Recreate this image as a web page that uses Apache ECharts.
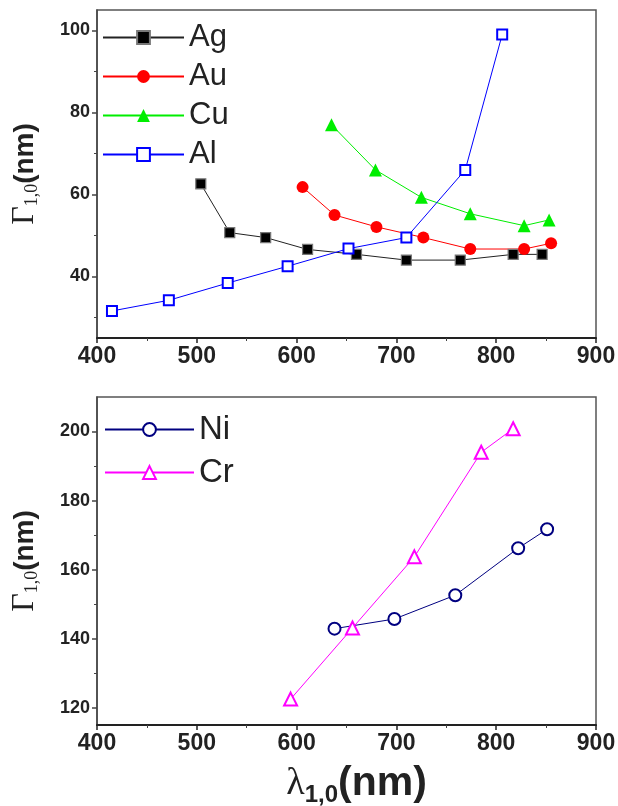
<!DOCTYPE html>
<html>
<head>
<meta charset="utf-8">
<script src="https://cdn.jsdelivr.net/npm/echarts@6/dist/echarts.min.js"></script>
<style>
html,body{margin:0;padding:0;background:#fff;}
#main{width:618px;height:806px;}
</style>
</head>
<body>
<div id="main"></div>
<script>
// top panel: Ag, Au, Cu, Al
var agX = [504, 533, 569, 611, 660, 710, 764, 817, 846];
var agY = [62.6, 50.7, 49.5, 46.6, 45.4, 44.0, 44.0, 45.4, 45.4];
var auX = [606, 638, 680, 727, 774, 828, 855];
var auY = [61.8, 55.0, 52.1, 49.5, 46.7, 46.7, 48.1];
var cuX = [635, 679, 725, 774, 828, 853];
var cuY = [77.0, 66.0, 59.3, 55.3, 52.4, 53.8];
var alX = [415, 472, 531, 591, 652, 710, 769, 806];
var alY = [31.6, 34.2, 38.4, 42.5, 46.8, 49.5, 66.0, 99.0];
// bottom panel: Ni, Cr
var niX = [638, 698, 759, 822, 851];
var niY = [142.9, 145.7, 152.6, 166.2, 171.7];
var crX = [594, 656, 718, 785, 817];
var crY = [122.5, 143.1, 163.7, 194.0, 200.8];
// ticks
var topYTicks = [40, 60, 80, 100];
var topYMinor = [30, 50, 70, 90];
var botYTicks = [120, 140, 160, 180, 200];
var botYMinor = [130, 150, 170, 190];

function pairs(xs, ys) {
  return xs.map(function (x, i) { return [x, ys[i]]; });
}

var sans = 'Liberation Sans, Arial, sans-serif';
var serif = 'Liberation Serif, Times New Roman, serif';

function xAxis(grid, name) {
  return {
    type: 'value', gridIndex: grid, min: 400, max: 900, interval: 100,
    axisLine: {lineStyle: {color: '#222', width: 2}},
    axisTick: {length: 5, lineStyle: {color: '#222', width: 1.5}},
    minorTick: {show: true, splitNumber: 2, length: 3, lineStyle: {color: '#444'}},
    splitLine: {show: false},
    axisLabel: {fontSize: 23, fontWeight: 'bold', color: '#222', fontFamily: sans, margin: 7},
    name: name || '', nameLocation: 'middle', nameGap: 36,
    nameTextStyle: {
      padding: [0, 0, 0, 20],
      rich: {
        l: {fontSize: 38, fontFamily: serif, color: '#222'},
        s: {fontSize: 24, fontWeight: 'bold', fontFamily: sans, color: '#222', verticalAlign: 'bottom', padding: [22, 0, 0, 0]},
        b: {fontSize: 41, fontWeight: 'bold', fontFamily: sans, color: '#222'}
      }
    }
  };
}

function yMain(grid, min, max, ticks) {
  return {
    type: 'value', gridIndex: grid, min: min, max: max, position: 'left',
    axisLine: {lineStyle: {color: '#444', width: 1.5}},
    axisTick: {length: 5, customValues: ticks, lineStyle: {color: '#444', width: 1.5}},
    splitLine: {show: false},
    axisLabel: {customValues: ticks, fontSize: 18, fontWeight: 'bold', color: '#222', fontFamily: sans, margin: 7},
    name: '{g|Γ}{s|1,0}{b|(nm)}', nameLocation: 'middle', nameGap: 56,
    nameTextStyle: {
      rich: {
        g: {fontSize: 32, fontFamily: serif, color: '#222'},
        s: {fontSize: 18, fontFamily: serif, color: '#222', verticalAlign: 'bottom', padding: [10, 0, 0, 0]},
        b: {fontSize: 28, fontWeight: 'bold', fontFamily: sans, color: '#222'}
      }
    }
  };
}

function yMinor(grid, min, max, ticks) {
  return {
    type: 'value', gridIndex: grid, min: min, max: max, position: 'left',
    axisLine: {show: false},
    axisTick: {length: 3, customValues: ticks, lineStyle: {color: '#444', width: 1}},
    axisLabel: {show: false},
    splitLine: {show: false}
  };
}

var chart = echarts.init(document.getElementById('main'), null, {renderer: 'canvas'});

var option = {
  backgroundColor: '#fff',
  animation: false,
  grid: [
    {left: 97, right: 22, top: 10, height: 328, outerBoundsMode: 'none', containLabel: false,
      show: true, borderColor: '#555', borderWidth: 1.5},
    {left: 97, right: 22, top: 397, height: 328, outerBoundsMode: 'none', containLabel: false,
      show: true, borderColor: '#555', borderWidth: 1.5}
  ],
  xAxis: [xAxis(0), xAxis(1, '{l|λ}{s|1,0}{b|(nm)}')],
  yAxis: [
    yMain(0, 25, 105, topYTicks), yMinor(0, 25, 105, topYMinor),
    yMain(1, 115, 210, botYTicks), yMinor(1, 115, 210, botYMinor)
  ],
  legend: [
    {
      data: ['Ag', 'Au', 'Cu', 'Al'], orient: 'vertical', left: 97, top: 17,
      itemWidth: 81, itemHeight: 16, itemGap: 8,
      textStyle: {fontSize: 31, color: '#222', fontFamily: sans}
    },
    {
      data: ['Ni', 'Cr'], orient: 'vertical', left: 99, top: 408,
      itemWidth: 89, itemHeight: 16, itemGap: 10,
      textStyle: {fontSize: 33, color: '#222', fontFamily: sans}
    }
  ],
  series: [
    {
      name: 'Ag', type: 'line', xAxisIndex: 0, yAxisIndex: 0, data: pairs(agX, agY),
      symbol: 'rect', symbolSize: 10,
      itemStyle: {color: '#000', borderColor: '#777', borderWidth: 1.2},
      lineStyle: {color: '#222', width: 1}
    },
    {
      name: 'Au', type: 'line', xAxisIndex: 0, yAxisIndex: 0, data: pairs(auX, auY),
      symbol: 'circle', symbolSize: 12,
      itemStyle: {color: '#ff0000'},
      lineStyle: {color: '#ff0000', width: 1}
    },
    {
      name: 'Cu', type: 'line', xAxisIndex: 0, yAxisIndex: 0, data: pairs(cuX, cuY),
      symbol: 'triangle', symbolSize: 13,
      itemStyle: {color: '#00ee00'},
      lineStyle: {color: '#00ee00', width: 1}
    },
    {
      name: 'Al', type: 'line', xAxisIndex: 0, yAxisIndex: 0, data: pairs(alX, alY),
      symbol: 'emptyRect', symbolSize: 10,
      itemStyle: {color: '#0000ff', borderWidth: 1.2},
      lineStyle: {color: '#0000ff', width: 1}
    },
    {
      name: 'Ni', type: 'line', xAxisIndex: 1, yAxisIndex: 2, data: pairs(niX, niY),
      symbol: 'emptyCircle', symbolSize: 12,
      itemStyle: {color: '#000080', borderWidth: 1.2},
      lineStyle: {color: '#000080', width: 1}
    },
    {
      name: 'Cr', type: 'line', xAxisIndex: 1, yAxisIndex: 2, data: pairs(crX, crY),
      symbol: 'emptyTriangle', symbolSize: 13,
      itemStyle: {color: '#ff00ff', borderWidth: 1.2},
      lineStyle: {color: '#ff00ff', width: 1}
    }
  ]
};

chart.setOption(option);
</script>
</body>
</html>
